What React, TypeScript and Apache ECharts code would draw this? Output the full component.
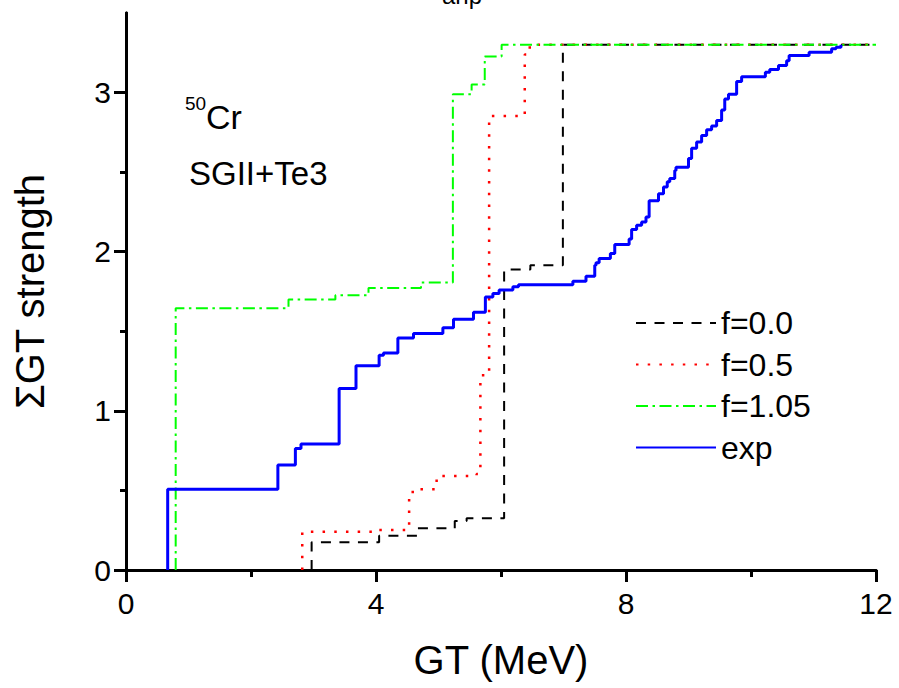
import React, { useEffect, useRef } from "react";
import * as echarts from "echarts";

const FONT = "'Liberation Sans', Arial, Helvetica, sans-serif";

// step curves: x where the cumulative strength jumps, y = value after the jump
const f00X = [2.97, 4.05, 4.67, 5.26, 5.45, 6.05, 6.47, 6.99, 12];
const f00Y = [0.174, 0.215, 0.262, 0.308, 0.325, 1.888, 1.915, 3.3, 3.3];

const f05X = [2.82, 3.98, 4.53, 4.62, 4.97, 5.61, 5.67, 5.81, 6.38, 6.46, 12];
const f05Y = [0.24, 0.251, 0.49, 0.507, 0.59, 0.603, 1.224, 2.852, 3.24, 3.3, 3.3];

const f105X = [0.795, 2.6, 3.35, 3.88, 4.72, 5.23, 5.53, 5.74, 6.01, 12];
const f105Y = [1.645, 1.7, 1.726, 1.772, 1.806, 2.99, 3.05, 3.227, 3.3, 3.3];

const expX = [
  0.667, 2.43, 2.71, 2.8, 3.41, 3.68, 4.05, 4.12, 4.35, 4.6, 5.07, 5.24, 5.56, 5.75, 5.87,
  5.97, 6.19, 6.28, 7.15, 7.36, 7.5, 7.52, 7.57, 7.75, 7.82, 8.05, 8.09, 8.17, 8.25, 8.32,
  8.37, 8.52, 8.6, 8.66, 8.7, 8.78, 8.8, 9.0, 9.05, 9.13, 9.21, 9.29, 9.37, 9.45, 9.53,
  9.58, 9.64, 9.77, 9.85, 10.23, 10.3, 10.44, 10.57, 10.61, 10.93, 11.29, 11.36, 11.44,
];
const expY = [
  0.507, 0.659, 0.764, 0.791, 1.14, 1.283, 1.35, 1.364, 1.458, 1.486, 1.523, 1.575, 1.62,
  1.716, 1.737, 1.76, 1.78, 1.793, 1.815, 1.846, 1.915, 1.93, 1.957, 1.988, 2.046, 2.08,
  2.14, 2.166, 2.186, 2.218, 2.32, 2.365, 2.406, 2.44, 2.46, 2.51, 2.53, 2.585, 2.65, 2.69,
  2.73, 2.766, 2.79, 2.825, 2.89, 2.96, 2.99, 3.07, 3.1, 3.128, 3.145, 3.17, 3.2, 3.233,
  3.254, 3.275, 3.285, 3.3,
];

const seriesNames = ["f=0.0", "f=0.5", "f=1.05", "exp"];
const xTicks = [0, 4, 8, 12];
const yTicks = [0, 1, 2, 3];

function stepData(xs: number[], ys: number[]) {
  const d: number[][] = [[xs[0], 0]];
  xs.forEach((x, i) => d.push([x, ys[i]]));
  return d;
}

export default function App() {
  const ref = useRef<HTMLDivElement>(null);
  useEffect(() => {
    document.body.style.margin = "0";
    const chart = echarts.init(ref.current!, null, { renderer: "svg" });
    const axisLine = { show: true, lineStyle: { color: "#000", width: 3 } };
    const mkSeries = (name: string, xs: number[], ys: number[], color: string, width: number, type: any) => ({
      name,
      type: "line",
      step: "end",
      symbol: "none",
      showSymbol: false,
      data: stepData(xs, ys),
      lineStyle: { color, width, type, cap: "butt" },
      itemStyle: { color },
    });
    chart.setOption({
      animation: false,
      textStyle: { fontFamily: FONT },
      grid: { left: 126, right: 23, top: 13, bottom: 118 },
      legend: {
        orient: "vertical",
        left: 630,
        top: 302,
        itemWidth: 80,
        itemHeight: 12,
        itemGap: 9.5,
        data: seriesNames,
        itemStyle: { opacity: 0 },
        textStyle: { fontSize: 32, color: "#000", fontFamily: FONT, lineHeight: 32 },
      },
      xAxis: [
        {
          type: "value",
          position: "bottom",
          min: 0,
          max: 12,
          interval: 4,
          axisLine,
          axisTick: { show: true, length: 10, lineStyle: { color: "#000", width: 3 }, customValues: xTicks },
          minorTick: { show: true, splitNumber: 2, length: 6, lineStyle: { color: "#000", width: 3 } },
          axisLabel: { fontSize: 30, color: "#000", margin: 18, fontFamily: FONT, customValues: xTicks },
          splitLine: { show: false },
          name: "GT (MeV)",
          nameLocation: "middle",
          nameGap: 70,
          nameTextStyle: { fontSize: 40, color: "#000", fontFamily: FONT },
        },
        {
          type: "value",
          position: "top",
          min: 0,
          max: 12,
          interval: 4,
          axisLine,
          axisTick: { show: true, inside: true, length: 12, lineStyle: { color: "#000", width: 3 } },
          minorTick: { show: true, splitNumber: 2, length: 7, lineStyle: { color: "#000", width: 3 } },
          axisLabel: { show: false },
          splitLine: { show: false },
        },
      ],
      yAxis: [
        {
          type: "value",
          position: "left",
          min: 0,
          max: 3.5,
          interval: 1,
          axisLine,
          axisTick: { show: true, length: 12, lineStyle: { color: "#000", width: 3 }, customValues: yTicks },
          minorTick: { show: true, splitNumber: 2, length: 6, lineStyle: { color: "#000", width: 3 } },
          axisLabel: { fontSize: 30, color: "#000", margin: 15, fontFamily: FONT, customValues: yTicks },
          splitLine: { show: false },
          name: "ΣGT strength",
          nameLocation: "middle",
          nameGap: 76,
          nameTextStyle: { fontSize: 40, color: "#000", fontFamily: FONT },
        },
        {
          type: "value",
          position: "right",
          min: 0,
          max: 3.5,
          interval: 1,
          axisLine,
          axisTick: { show: true, inside: true, length: 10, lineStyle: { color: "#000", width: 3 }, customValues: yTicks },
          minorTick: { show: true, splitNumber: 2, length: 5, lineStyle: { color: "#000", width: 3 } },
          axisLabel: { show: false },
          splitLine: { show: false },
        },
      ],
      graphic: [
        { type: "text", x: 462, y: -4.5, style: { text: "anp", fontSize: 24, fontFamily: FONT, fill: "#000", align: "center", verticalAlign: "middle" } },
        { type: "text", x: 185, y: 103.5, style: { text: "50", fontSize: 19, fontFamily: FONT, fill: "#000", align: "left", verticalAlign: "middle" } },
        { type: "text", x: 206, y: 117, style: { text: "Cr", fontSize: 34, fontFamily: FONT, fill: "#000", align: "left", verticalAlign: "middle" } },
        { type: "text", x: 189, y: 173.5, style: { text: "SGII+Te3", fontSize: 33, fontFamily: FONT, fill: "#000", align: "left", verticalAlign: "middle" } },
      ],
      series: [
        mkSeries(seriesNames[0], f00X, f00Y, "#000000", 2, [10, 8.5]),
        mkSeries(seriesNames[1], f05X, f05Y, "#ff0000", 2.5, [2.5, 9.2]),
        mkSeries(seriesNames[2], f105X, f105Y, "#00ff00", 2, [12, 4.5, 2.5, 4.5]),
        mkSeries(seriesNames[3], expX, expY, "#0000ff", 3, "solid"),
      ],
    });
    return () => chart.dispose();
  }, []);
  return <div ref={ref} style={{ width: 899, height: 688 }} />;
}
